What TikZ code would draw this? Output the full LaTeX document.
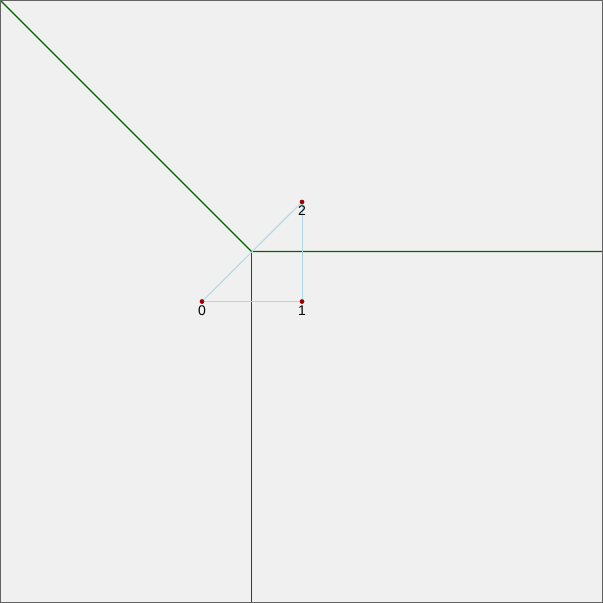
\documentclass[tikz,border=0pt]{standalone}
\usepackage{fontspec}
\setmainfont{Liberation Sans}
\definecolor{bg}{HTML}{F0F0F0}
\definecolor{framecol}{HTML}{646464}
\definecolor{gline}{HTML}{006400}
\definecolor{lb}{HTML}{ADD8E6}
\definecolor{dot}{HTML}{A00000}
\begin{document}
\begin{tikzpicture}[x=1pt,y=-1pt,
  pt/.style={circle,fill=dot,inner sep=0pt,minimum size=4.5pt},
  lbl/.style={font=\fontsize{14}{14}\selectfont,inner sep=0pt,anchor=north},
  edge/.style={draw=lb,line width=1pt},
  wall/.style={draw=gline,line width=1.2pt}]
\fill[bg] (0,0) rectangle (603,603);
\useasboundingbox (0,0) rectangle (603,603);
\coordinate (tl) at (0,0);
\coordinate (c) at (251.5,251.5);
\coordinate (r) at (603,251.5);
\coordinate (b) at (251.5,603);
\draw[wall] (tl) -- (c) -- (r);
\draw[wall] (c) -- (b);
\node[pt] (p0) at (202,301.5) {};
\node[pt] (p1) at (302,301.5) {};
\node[pt] (p2) at (302,202) {};
\draw[edge] (p0.center) -- (p1.center);
\draw[edge] (302.5,301.5) -- (302.5,202);
\draw[edge] (p2.center) -- (p0.center);
\node[pt] at (p0) {};
\node[pt] at (p1) {};
\node[pt] at (p2) {};
\node[lbl] (l0) at (202,305.5) {0};
\node[lbl] (l1) at (302,305.5) {1};
\node[lbl] (l2) at (302,206) {2};
\draw[framecol,line width=1.5pt] (0,0) rectangle (603,603);
\end{tikzpicture}
\end{document}
